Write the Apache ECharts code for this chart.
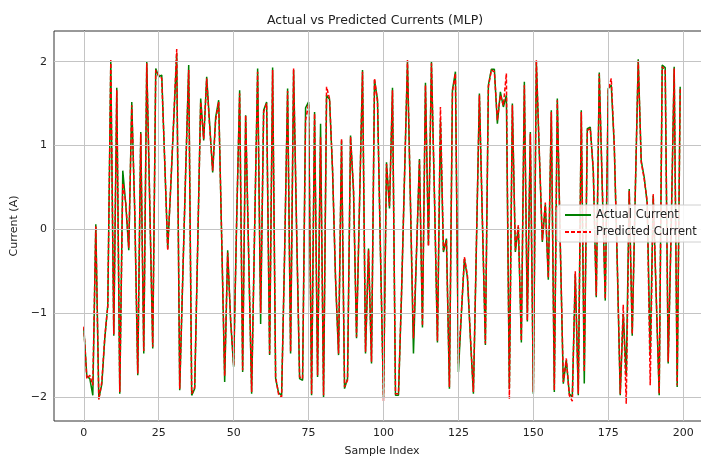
<!DOCTYPE html>
<html>
<head>
<meta charset="utf-8">
<script src="https://cdn.jsdelivr.net/npm/echarts@6/dist/echarts.min.js"></script>
<style>
  html, body { margin: 0; padding: 0; background: #fff; }
  #chart { width: 701px; height: 459px; }
</style>
</head>
<body>
<div id="chart"></div>
<script>
// sample index 0..199
const actualCurrent = [
  -1.18, -1.75, -1.78, -1.98, 0.06, -2.02, -1.85, -1.30, -0.90, 2.00,
  -1.27, 1.69, -1.96, 0.70, 0.30, -0.25, 1.52, 0.20, -1.74, 1.16,
  -1.48, 2.00, 0.30, -1.42, 1.92, 1.82, 1.84, 0.80, -0.23, 0.50,
  1.30, 2.10, -1.92, -0.60, 0.70, 1.96, -1.98, -1.90, -0.20, 1.56,
  1.06, 1.82, 1.25, 0.68, 1.34, 1.54, -0.10, -1.82, -0.25, -1.10,
  -1.64, 0.10, 1.66, -1.70, 1.36, -0.30, -1.96, 0.00, 1.92, -1.13,
  1.42, 1.52, -1.50, 1.93, -1.78, -1.95, -1.98, -0.30, 1.68, -1.48,
  1.90, 0.00, -1.78, -1.80, 1.45, 1.52, -1.98, 1.40, -1.76, 1.26,
  -2.00, 1.60, 1.55, 0.70, -0.60, -1.50, 1.06, -1.90, -1.78, 1.12,
  0.45, -1.30, 0.30, 1.90, -1.48, -0.23, -1.60, 1.78, 1.55, -0.30,
  -2.00, 0.80, 0.25, 1.69, -1.98, -1.98, -0.80, 0.60, 2.00, 0.30,
  -1.48, -0.30, 0.84, -1.17, 1.75, -0.19, 2.00, 0.40, -1.35, 1.30,
  -0.27, -0.11, -1.90, 1.66, 1.88, -1.70, -1.00, -0.35, -0.57, -1.30,
  -1.96, -0.20, 1.62, 0.10, -1.38, 1.72, 1.91, 1.91, 1.26, 1.64,
  1.46, 1.60, -1.90, 1.50, -0.27, 0.03, -1.35, 1.76, -1.10, 1.16,
  -1.96, 2.00, 0.90, -0.15, 0.30, -0.60, 1.42, -1.94, 1.56, -0.20,
  -1.84, -1.56, -1.96, -2.00, -0.53, -1.98, 1.42, -1.84, 1.20, 1.22,
  0.70, -0.81, 1.87, 0.50, -0.85, 1.68, 1.72, 1.00, -0.40, -1.98,
  -1.00, -1.75, 0.48, -1.27, 0.40, 2.03, 0.82, 0.62, 0.31, -1.50,
  0.40, -0.80, -1.98, 1.96, 1.93, -1.60, 0.00, 1.94, -1.88, 1.70
];

const predictedCurrent = [
  -1.16, -1.78, -1.74, -1.86, 0.04, -2.03, -1.82, -1.28, -0.92, 2.02,
  -1.25, 1.66, -1.94, 0.55, 0.32, -0.22, 1.48, 0.22, -1.72, 1.14,
  -1.45, 1.98, 0.32, -1.40, 1.90, 1.84, 1.80, 0.82, -0.25, 0.52,
  1.32, 2.15, -1.90, -0.58, 0.72, 1.90, -1.96, -1.88, -0.18, 1.52,
  1.08, 1.80, 1.22, 0.70, 1.30, 1.52, -0.08, -1.75, -0.28, -1.08,
  -1.62, 0.12, 1.62, -1.68, 1.36, -0.28, -1.94, 0.02, 1.88, -1.00,
  1.40, 1.50, -1.48, 1.90, -1.76, -1.97, -2.00, -0.28, 1.65, -1.46,
  1.92, 0.02, -1.76, -1.78, 1.30, 1.50, -1.96, 1.38, -1.74, 1.10,
  -1.98, 1.70, 1.56, 0.72, -0.58, -1.48, 1.08, -1.88, -1.80, 1.10,
  0.48, -1.28, 0.32, 1.88, -1.46, -0.25, -1.58, 1.80, 1.52, -0.28,
  -2.05, 0.78, 0.28, 1.66, -1.96, -1.96, -0.78, 0.62, 2.02, 0.32,
  -1.30, -0.28, 0.82, -1.15, 1.72, -0.20, 1.98, 0.42, -1.33, 1.46,
  -0.25, -0.13, -1.88, 1.64, 1.86, -1.60, -0.98, -0.33, -0.55, -1.28,
  -1.94, -0.18, 1.60, 0.12, -1.36, 1.70, 1.90, 1.88, 1.30, 1.60,
  1.48, 1.86, -2.02, 1.48, -0.25, 0.05, -1.33, 1.72, -1.08, 1.14,
  -1.94, 2.02, 0.92, -0.13, 0.32, -0.58, 1.40, -1.92, 1.54, -0.18,
  -1.82, -1.54, -1.98, -2.05, -0.50, -1.96, 1.40, -1.70, 1.18, 1.20,
  0.72, -0.79, 1.85, 0.52, -0.83, 1.66, 1.80, 1.02, -0.38, -1.96,
  -0.90, -2.08, 0.46, -1.25, 0.42, 2.01, 0.80, 0.60, 0.33, -1.86,
  0.42, -0.78, -1.96, 1.94, 1.90, -1.58, 0.02, 1.92, -1.86, 1.68
];

const xTicks = [0, 25, 50, 75, 100, 125, 150, 175, 200];
const yTicks = [-2, -1, 0, 1, 2];

const sampleIndex = actualCurrent.map((_, i) => i);

const chart = echarts.init(document.getElementById('chart'));

const fontFamily = 'DejaVu Sans';

const option = {
  animation: false,
  textStyle: { fontFamily: fontFamily },
  title: {
    text: 'Actual vs Predicted Currents (MLP)',
    left: 262,
    top: 9,
    textStyle: { fontSize: 12.5, fontWeight: 'normal', color: '#222', fontFamily: fontFamily }
  },
  legend: {
    orient: 'vertical',
    left: 557,
    top: 205,
    z: 10,
    itemWidth: 26,
    itemHeight: 10,
    itemGap: 5,
    padding: [4, 7],
    backgroundColor: 'rgba(255,255,255,0.85)',
    borderColor: '#d0d0d0',
    borderWidth: 1,
    borderRadius: 3,
    itemStyle: { opacity: 0 },
    textStyle: { fontSize: 11.5, color: '#222', fontFamily: fontFamily },
    data: ['Actual Current', 'Predicted Current']
  },
  grid: {
    left: 54,
    top: 31,
    right: -9,
    bottom: 38,
    outerBoundsMode: 'none',
    containLabel: false,
    show: true,
    borderColor: '#333',
    borderWidth: 1
  },
  xAxis: {
    type: 'value',
    min: -9.95,
    max: 208.95,
    name: 'Sample Index',
    nameLocation: 'middle',
    nameGap: 25,
    nameTextStyle: { fontSize: 11, color: '#222' },
    axisLine: { show: true, lineStyle: { color: '#333' } },
    axisTick: { show: true, length: 4, lineStyle: { color: '#333' }, customValues: xTicks },
    axisLabel: { fontSize: 11, color: '#222', margin: 7, customValues: xTicks },
    splitLine: { show: false }
  },
  yAxis: {
    type: 'value',
    min: -2.286,
    max: 2.366,
    name: 'Current (A)',
    nameLocation: 'middle',
    nameGap: 29,
    nameTextStyle: { fontSize: 11, color: '#222' },
    axisLine: { show: true, lineStyle: { color: '#333' } },
    axisTick: { show: true, length: 4, lineStyle: { color: '#333' }, customValues: yTicks },
    axisLabel: {
      fontSize: 11, color: '#222', margin: 7, customValues: yTicks,
      formatter: v => String(v).replace('-', '\u2212')
    },
    splitLine: { show: false }
  },
  series: [
    {
      name: 'Actual Current',
      type: 'line',
      data: sampleIndex.map(i => [i, actualCurrent[i]]),
      symbol: 'none',
      color: '#008000',
      lineStyle: { color: '#008000', width: 1.5 },
      z: 3,
      // grid lines drawn through the axis scales
      markLine: {
        silent: true,
        symbol: 'none',
        label: { show: false },
        animation: false,
        lineStyle: { color: '#c4c4c4', width: 1, type: 'solid' },
        data: xTicks.map(t => ({ xAxis: t })).concat(yTicks.map(t => ({ yAxis: t })))
      }
    },
    {
      name: 'Predicted Current',
      type: 'line',
      data: sampleIndex.map(i => [i, predictedCurrent[i]]),
      symbol: 'none',
      color: '#ff0000',
      lineStyle: { color: '#ff0000', width: 1.5, type: [4, 2] },
      z: 4
    }
  ]
};

chart.setOption(option);
</script>
</body>
</html>
